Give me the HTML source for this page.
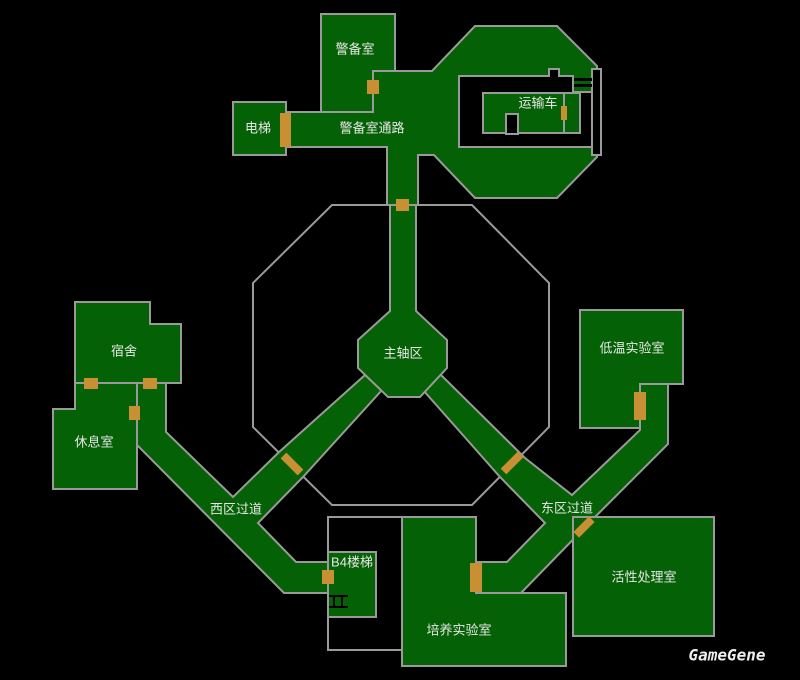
<!DOCTYPE html>
<html><head><meta charset="utf-8"><style>
html,body{margin:0;padding:0;background:#000;}
svg{display:block;}
text{font-family:"Liberation Sans","Noto Sans CJK SC",sans-serif;font-size:13px;fill:#e6e6e6;text-anchor:middle;dominant-baseline:middle;}
</style></head><body>
<svg width="800" height="680" viewBox="0 0 800 680" xmlns="http://www.w3.org/2000/svg">
<rect width="800" height="680" fill="#000"/>
<g fill="none" stroke="#9a9a9a" stroke-width="2">
<polygon points="332,205 472,205 549,283 549,427 472,505 332,505 253,427 253,283"/>
<rect x="328" y="517" width="74" height="133"/>
</g>
<g fill="#056105" stroke="#9a9a9a" stroke-width="2" stroke-linejoin="miter">
<!-- west passage -->
<polygon points="137,383 166,383 166,432 233,497 278,453 365,375 382,390 303,477 258,523 296,562 328,562 328,593 284,593 137,445"/>
<!-- east passage -->
<polygon points="423,390 440,374 525,458 572,495 640,430 640,384 668,384 668,444 595,517 521,593 476,593 476,562 507,562 545,523 500,477"/>
<!-- hub -->
<polygon points="390,205 416,205 416,311 447,340 447,368 420,397 388,397 358,368 358,340 390,311"/>
<!-- top complex -->
<polygon points="373,71 432,71 475,26 557,26 597,66 597,157 557,198 475,198 434,155 418,155 418,205 387,205 387,147 286,147 286,112 373,112"/>
<polygon points="321,14 395,14 395,71 373,71 373,112 321,112"/>
<rect x="233" y="102" width="53" height="53"/>
<!-- rooms -->
<polygon points="75,302 150,302 150,324 181,324 181,383 75,383"/>
<polygon points="75,383 137,383 137,489 53,489 53,409 75,409"/>
<rect x="328" y="552" width="48" height="65"/>
<polygon points="402,517 476,517 476,593 566,593 566,666 402,666"/>
<polygon points="580,310 683,310 683,384 640,384 640,428 580,428"/>
<rect x="573" y="517" width="141" height="119"/>
</g>
<!-- vehicle -->
<g stroke="#9a9a9a" stroke-width="2">
<polygon points="459,76 549,76 549,69 559,69 559,76 573,76 573,92 592,92 592,147 459,147" fill="#000"/>
<rect x="592" y="69" width="9" height="86" fill="#000"/>
<rect x="483" y="93" width="97" height="40" fill="#056105"/>
<line x1="564" y1="93" x2="564" y2="133"/>
<rect x="506" y="114" width="12" height="20" fill="#000"/>
</g>
<g fill="#000"><rect x="574" y="78" width="18" height="3"/><rect x="574" y="84" width="18" height="3"/></g>
<!-- doors -->
<g fill="#c98f33">
<rect x="367" y="80" width="12" height="14"/>
<rect x="280" y="113" width="11" height="34"/>
<rect x="396" y="199" width="13" height="12"/>
<rect x="561" y="106" width="6" height="14"/>
<rect x="84" y="378" width="14" height="11"/>
<rect x="143" y="378" width="14" height="11"/>
<rect x="129" y="406" width="11" height="14"/>
<rect x="322" y="570" width="12" height="14"/>
<rect x="470" y="563" width="12" height="29"/>
<rect x="634" y="392" width="12" height="28"/>
<rect x="-12" y="-4" width="24" height="8" transform="translate(292,464) rotate(45)"/>
<rect x="-12" y="-4" width="24" height="8" transform="translate(512,463) rotate(-45)"/>
<rect x="-11" y="-4" width="22" height="8" transform="translate(584,527) rotate(-45)"/>
</g>
<g fill="#000"><rect x="329" y="595" width="19" height="2"/><rect x="329" y="606" width="19" height="2"/><rect x="333" y="595" width="2" height="12"/><rect x="341" y="595" width="2" height="12"/></g>
<text x="355" y="50">警备室</text>
<text x="258" y="129">电梯</text>
<text x="372" y="129">警备室通路</text>
<text x="538" y="104">运输车</text>
<text x="403" y="354">主轴区</text>
<text x="124" y="352">宿舍</text>
<text x="94" y="443">休息室</text>
<text x="236" y="510">西区过道</text>
<text x="352" y="563">B4楼梯</text>
<text x="459" y="631">培养实验室</text>
<text x="567" y="509">东区过道</text>
<text x="632" y="349">低温实验室</text>
<text x="644" y="578">活性处理室</text>
<text x="727" y="656" style="font-family:'DejaVu Sans Mono','Liberation Mono',monospace;font-weight:bold;font-style:italic;font-size:16px;fill:#eee">GameGene</text>
</svg>
</body></html>
